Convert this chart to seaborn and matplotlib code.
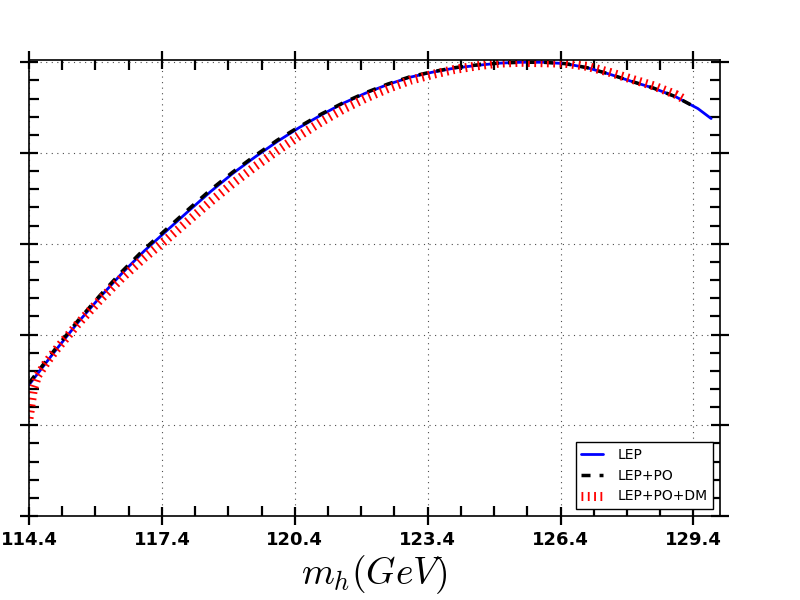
import numpy as np
import pandas as pd
import matplotlib
matplotlib.use("Agg")
import matplotlib.pyplot as plt
from matplotlib.ticker import MultipleLocator, FixedLocator, NullFormatter
import seaborn as sns

#%% values (y normalised to the peak)
mh_lep = [114.4, 115.0, 115.5, 116.0, 116.5, 117.0, 117.5, 118.0, 118.5, 119.0,
          119.5, 120.0, 120.5, 121.0, 121.5, 122.0, 122.5, 123.0, 123.5, 124.0,
          124.5, 125.0, 125.5, 126.0, 126.5, 127.0, 127.5, 128.0, 128.5, 129.0,
          129.5, 129.8]
lep = [0.289, 0.365, 0.426, 0.482, 0.535, 0.584, 0.628, 0.672, 0.715, 0.755,
       0.791, 0.825, 0.856, 0.884, 0.910, 0.932, 0.951, 0.967, 0.978, 0.987,
       0.993, 0.998, 1.000, 1.000, 0.997, 0.988, 0.974, 0.958, 0.943, 0.924,
       0.898, 0.876]

mh_po = mh_lep[:-1]
lep_po = [0.293, 0.369, 0.430, 0.486, 0.539, 0.588, 0.632, 0.676, 0.719, 0.758,
          0.794, 0.828, 0.858, 0.886, 0.911, 0.933, 0.952, 0.968, 0.979, 0.988,
          0.994, 0.998, 1.000, 1.000, 0.997, 0.988, 0.974, 0.958, 0.943, 0.924,
          0.898]

mh_dm = [114.4, 114.5, 114.6, 114.8, 115.0, 115.5, 116.0, 116.5, 117.0, 117.5,
         118.0, 118.5, 119.0, 119.5, 120.0, 120.5, 121.0, 121.5, 122.0, 122.5,
         123.0, 123.5, 124.0, 124.5, 125.0, 125.5, 126.0, 126.5, 127.0, 127.5,
         128.0, 128.5, 129.0, 129.2]
lep_po_dm = [0.215, 0.280, 0.310, 0.339, 0.365, 0.423, 0.476, 0.525, 0.569, 0.609,
             0.651, 0.693, 0.733, 0.770, 0.805, 0.838, 0.869, 0.897, 0.921, 0.942,
             0.960, 0.973, 0.984, 0.992, 0.998, 1.000, 0.999, 0.998, 0.991, 0.978,
             0.963, 0.948, 0.929, 0.918]

xticks = [114.4, 117.4, 120.4, 123.4, 126.4, 129.4]
xminor = [114.4 + 0.75 * k for k in range(21)]

#%% style
sns.set_style("white")
plt.rcParams['font.family'] = ['DejaVu Sans']
plt.rcParams['mathtext.fontset'] = 'cm'

fig = plt.figure(figsize=(8, 6), dpi=100)
ax = fig.add_axes([0.03625, 0.14, 0.86375, 0.76])

sns.lineplot(x=mh_lep, y=lep, color='blue', linewidth=2, label='LEP', ax=ax)
sns.lineplot(x=mh_po, y=lep_po, color='black', linewidth=2.5,
             linestyle=(0, (2.6, 2.6)), label='LEP+PO', ax=ax)
sns.lineplot(x=mh_dm, y=lep_po_dm, color='red', linewidth=6.5,
             linestyle=(0, (0.2, 0.5)), label='LEP+PO+DM', ax=ax)

ax.set_xlim(114.4, 130.0)
ax.set_ylim(0, 1.005)

ax.xaxis.set_major_locator(FixedLocator(xticks))
ax.xaxis.set_minor_locator(FixedLocator(xminor))
ax.yaxis.set_major_locator(MultipleLocator(0.2))
ax.yaxis.set_minor_locator(MultipleLocator(0.04))
ax.yaxis.set_major_formatter(NullFormatter())
ax.set_xticklabels([f"{t:.1f}" for t in xticks], fontsize=13, fontweight='bold')

ax.tick_params(which='major', direction='inout', length=13, width=1.6,
               top=True, right=True, bottom=True, left=True, pad=4,
               color='black', labelcolor='black')
ax.tick_params(which='minor', direction='in', length=7, width=1.6,
               top=True, right=True, bottom=True, left=True, color='black')

for s in ax.spines.values():
    s.set_visible(True)
    s.set_color('black')
    s.set_linewidth(1.2)

ax.grid(True, which='major', color='0.3', linestyle=(0, (1, 4)), linewidth=0.8)

ax.set_xlabel(r'$m_h (GeV)$', fontsize=27, labelpad=3, color='black')
ax.set_ylabel('')

leg = ax.legend(loc='lower right', fontsize=10, fancybox=False, framealpha=1,
                edgecolor='black', handlelength=1.6, handletextpad=1.0)
leg.get_frame().set_linewidth(1.0)
for t in leg.get_texts():
    t.set_color('black')

fig.savefig('out.png', dpi=100)
